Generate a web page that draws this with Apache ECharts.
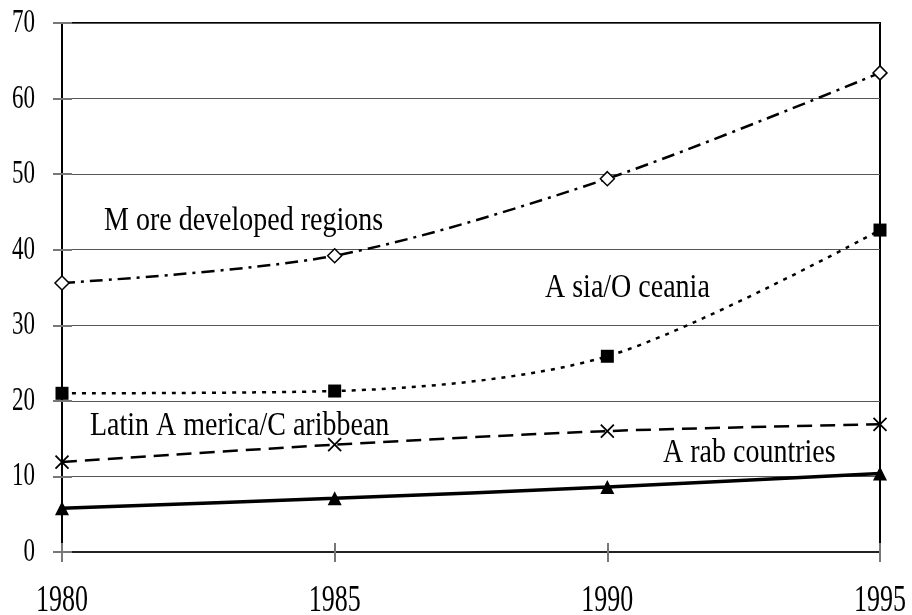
<!DOCTYPE html>
<html>
<head>
<meta charset="utf-8">
<script src="https://cdn.jsdelivr.net/npm/echarts@6/dist/echarts.min.js"></script>
<style>
  html, body { margin: 0; padding: 0; background: #fff; }
  #chart { width: 912px; height: 615px; }
</style>
</head>
<body>
<div id="chart"></div>
<script>
    var years = ['1980', '1985', '1990', '1995'];
    var yTicks = [0, 10, 20, 30, 40, 50, 60, 70];

    var moreDeveloped = [35.6, 39.2, 49.4, 63.4];
    var asiaOceania = [21.0, 21.3, 25.9, 42.6];
    var latinAmerica = [11.9, 14.2, 16.0, 16.9];
    var arabCountries = [5.8, 7.1, 8.6, 10.4];

    // label text as it is printed in the picture
    var seriesLabels = ['M ore developed regions', 'A sia/O ceania', 'Latin A merica/C aribbean', 'A rab countries'];

    var chart = echarts.init(document.getElementById('chart'));
    var serif = '"Liberation Serif", "DejaVu Serif", serif';

    chart.setOption({
        animation: false,
        backgroundColor: '#fff',
        grid: {
            left: 62, right: 32, top: 23, bottom: 63,
            show: true, borderColor: '#000', borderWidth: 2
        },
        xAxis: [
            {
                type: 'category',
                data: years,
                boundaryGap: false,
                axisLine: { lineStyle: { color: '#222', width: 2 } },
                axisTick: { show: true, length: 10, lineStyle: { color: '#777', width: 2 } },
                axisLabel: { show: false },
                splitLine: { show: false }
            },
            {
                // second copy only to draw the inward half of the ticks
                type: 'category',
                data: years,
                boundaryGap: false,
                position: 'bottom',
                axisLine: { show: false },
                axisTick: { show: true, inside: true, length: 9, lineStyle: { color: '#777', width: 2 } },
                axisLabel: { show: false },
                splitLine: { show: false }
            }
        ],
        yAxis: [
            {
                type: 'value',
                min: 0, max: 70, interval: 10,
                axisLine: { show: true, lineStyle: { color: '#000', width: 2 } },
                axisTick: { show: true, length: 9, lineStyle: { color: '#777', width: 2 } },
                axisLabel: { show: false },
                splitLine: { show: true, lineStyle: { color: '#555', width: 1 } }
            },
            {
                type: 'value',
                min: 0, max: 70, interval: 10,
                position: 'left',
                axisLine: { show: false },
                axisTick: { show: true, inside: true, length: 10, lineStyle: { color: '#777', width: 2 } },
                axisLabel: { show: false },
                splitLine: { show: false }
            }
        ],
        series: [
            {
                name: 'More developed regions',
                type: 'line',
                data: moreDeveloped,
                smooth: 0.3,
                symbol: 'diamond',
                symbolSize: [14, 14],
                z: 5,
                lineStyle: { color: '#000', width: 2.5, type: [13, 6, 3, 6] },
                itemStyle: { color: '#fff', borderColor: '#000', borderWidth: 1.5 }
            },
            {
                name: 'Asia/Oceania',
                type: 'line',
                data: asiaOceania,
                smooth: 0.3,
                symbol: 'rect',
                symbolSize: 13,
                z: 5,
                lineStyle: { color: '#000', width: 2.5, type: [4, 6] },
                itemStyle: { color: '#000' }
            },
            {
                name: 'Latin America/Caribbean',
                type: 'line',
                data: latinAmerica,
                smooth: 0.3,
                symbol: 'path://M0,0L10,10M10,0L0,10',
                symbolSize: 13,
                z: 5,
                lineStyle: { color: '#000', width: 2.5, type: [15, 8] },
                itemStyle: { color: '#000', borderColor: '#000', borderWidth: 1.8 }
            },
            {
                name: 'Arab countries',
                type: 'line',
                data: arabCountries,
                smooth: 0.3,
                symbol: 'triangle',
                symbolSize: 14,
                z: 5,
                lineStyle: { color: '#000', width: 3.5 },
                itemStyle: { color: '#000' }
            }
        ]
    });

    // tick labels drawn as stretched text so they look like the tall condensed original
    var graphics = [];
    yTicks.forEach(function (v) {
        var py = chart.convertToPixel({ yAxisIndex: 0 }, v);
        graphics.push({
            type: 'text', x: 35, y: py, scaleY: 1.5, z: 10,
            style: { text: String(v), font: '23px ' + serif, fill: '#000', align: 'right', verticalAlign: 'middle' }
        });
    });
    years.forEach(function (y, i) {
        var px = chart.convertToPixel({ xAxisIndex: 0 }, i);
        graphics.push({
            type: 'text', x: px, y: 601, scaleY: 1.42, z: 10,
            style: { text: y, font: '26px ' + serif, fill: '#000', align: 'center', verticalAlign: 'middle' }
        });
    });

    var labelPos = [[104, 221], [545, 288], [90, 426], [663, 453]];
    seriesLabels.forEach(function (t, i) {
        graphics.push({
            type: 'text', x: labelPos[i][0], y: labelPos[i][1], scaleY: 1.2, z: 10,
            style: { text: t, font: '28px ' + serif, fill: '#000', align: 'left', verticalAlign: 'middle' }
        });
    });

    chart.setOption({ graphic: graphics });
</script>
</body>
</html>
